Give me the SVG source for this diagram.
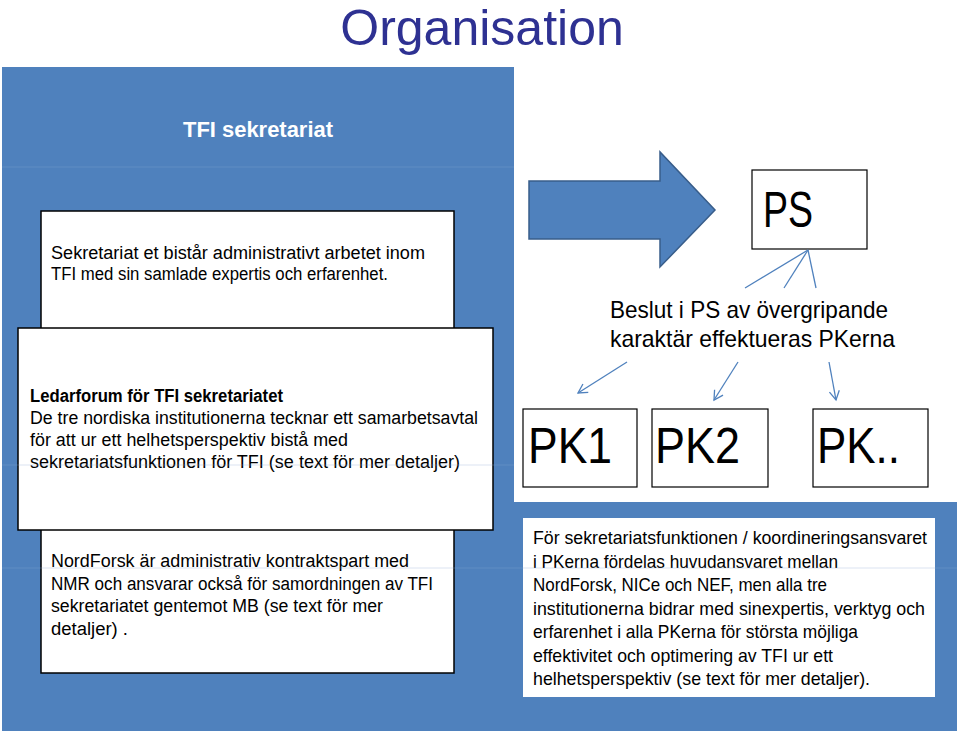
<svg xmlns="http://www.w3.org/2000/svg" width="960" height="737" viewBox="0 0 960 737">
<style>
.t{font-family:"Liberation Sans",Arial,sans-serif;fill:#000}
.b{font-size:18px}
.r{font-size:18.5px}
.big{font-size:50px}
.box{fill:#fff;stroke:#000;stroke-width:1.5}
.pk{fill:#fff;stroke:#000;stroke-width:1.2}
.con{stroke:#4F81BD;stroke-width:1.3;fill:none}
</style>
<defs>
<marker id="ah" markerWidth="12" markerHeight="12" refX="10" refY="6" orient="auto" markerUnits="userSpaceOnUse">
<path d="M1,1 L10,6 L1,11" fill="none" stroke="#4F81BD" stroke-width="1.3"/>
</marker>
</defs>
<rect width="960" height="737" fill="#fff"/>
<text class="t" x="482" y="45" text-anchor="middle" font-size="50" style="fill:#2E3192">Organisation</text>
<g id="panel">
<path d="M2,67 H514 V502 H957 V731 H2 Z" fill="#4F81BD"/>
<text class="t" x="258" y="137" text-anchor="middle" font-size="22" font-weight="bold" style="fill:#fff" textLength="150" lengthAdjust="spacingAndGlyphs">TFI sekretariat</text>
</g>
<g id="box-sekretariat">
<rect class="box" x="41" y="211" width="413" height="140"/>
<text class="t b" x="51" y="259" textLength="374" lengthAdjust="spacingAndGlyphs">Sekretariat et bistår administrativt  arbetet inom</text>
<text class="t b" x="51" y="280" textLength="337" lengthAdjust="spacingAndGlyphs">TFI med sin samlade expertis och erfarenhet.</text>
</g>
<g id="box-nordforsk">
<rect class="box" x="41" y="515" width="413" height="158"/>
<text class="t b" x="51" y="567" textLength="358" lengthAdjust="spacingAndGlyphs">NordForsk är administrativ kontraktspart  med</text>
<text class="t b" x="51" y="589.5" textLength="382" lengthAdjust="spacingAndGlyphs">NMR och ansvarar också för samordningen av TFI</text>
<text class="t b" x="51" y="612" textLength="332" lengthAdjust="spacingAndGlyphs">sekretariatet gentemot MB (se text för mer</text>
<text class="t b" x="51" y="634.5" textLength="77" lengthAdjust="spacingAndGlyphs">detaljer) .</text>
</g>
<g id="box-ledarforum">
<rect class="box" x="18" y="328" width="475" height="202"/>
<text class="t b" x="30" y="402" font-weight="bold" textLength="253" lengthAdjust="spacingAndGlyphs">Ledarforum för TFI sekretariatet</text>
<text class="t b" x="30" y="424" textLength="448" lengthAdjust="spacingAndGlyphs">De tre nordiska institutionerna tecknar ett samarbetsavtal</text>
<text class="t b" x="30" y="446" textLength="318" lengthAdjust="spacingAndGlyphs">för att ur ett helhetsperspektiv bistå med</text>
<text class="t b" x="30" y="468" textLength="430" lengthAdjust="spacingAndGlyphs">sekretariatsfunktionen  för TFI  (se text för mer detaljer)</text>
</g>
<g id="arrow">
<path d="M529,181 L660,181 L660,152 L715,210 L660,267 L660,239 L529,239 Z" fill="#4F81BD" stroke="#385D8A" stroke-width="1.5"/>
</g>
<g id="ps">
<rect class="pk" x="752" y="170" width="115" height="79"/>
<text class="t big" x="763" y="227" textLength="50" lengthAdjust="spacingAndGlyphs">PS</text>
</g>
<g id="ps-label">
<text class="t" x="610" y="318" font-size="24" textLength="278" lengthAdjust="spacingAndGlyphs">Beslut i PS av övergripande</text>
<text class="t" x="610" y="347" font-size="24" textLength="285" lengthAdjust="spacingAndGlyphs">karaktär effektueras PKerna</text>
</g>
<g id="pk1">
<rect class="pk" x="523" y="409" width="114" height="78"/>
<text class="t big" x="528" y="463" textLength="84" lengthAdjust="spacingAndGlyphs">PK1</text>
</g>
<g id="pk2">
<rect class="pk" x="652" y="409" width="116" height="78"/>
<text class="t big" x="655" y="463" textLength="85" lengthAdjust="spacingAndGlyphs">PK2</text>
</g>
<g id="pkn">
<rect class="pk" x="813" y="409" width="115" height="78"/>
<text class="t big" x="817" y="463" textLength="83" lengthAdjust="spacingAndGlyphs">PK..</text>
</g>
<g id="connectors">
<line class="con" x1="808" y1="250" x2="745" y2="288"/>
<line class="con" x1="808" y1="250" x2="784" y2="288"/>
<line class="con" x1="808" y1="250" x2="816" y2="288"/>
<line class="con" x1="627" y1="362" x2="578" y2="393" marker-end="url(#ah)"/>
<line class="con" x1="738" y1="362" x2="714" y2="400" marker-end="url(#ah)"/>
<line class="con" x1="829" y1="362" x2="836" y2="400" marker-end="url(#ah)"/>
</g>
<g id="box-pk-info">
<rect x="523" y="518" width="412" height="179" fill="#fff"/>
<text class="t r" x="533" y="544" textLength="394" lengthAdjust="spacingAndGlyphs">För sekretariatsfunktionen / koordineringsansvaret</text>
<text class="t r" x="533" y="567.5" textLength="305" lengthAdjust="spacingAndGlyphs">i PKerna fördelas huvudansvaret mellan</text>
<text class="t r" x="533" y="591" textLength="294" lengthAdjust="spacingAndGlyphs">NordForsk, NICe och NEF, men alla tre</text>
<text class="t r" x="533" y="614.5" textLength="392" lengthAdjust="spacingAndGlyphs">institutionerna bidrar med sinexpertis, verktyg och</text>
<text class="t r" x="533" y="638" textLength="325" lengthAdjust="spacingAndGlyphs">erfarenhet i alla PKerna för största möjliga</text>
<text class="t r" x="533" y="661.5" textLength="300" lengthAdjust="spacingAndGlyphs">effektivitet och optimering av TFI ur ett</text>
<text class="t r" x="533" y="685" textLength="337" lengthAdjust="spacingAndGlyphs">helhetsperspektiv (se text för mer detaljer).</text>
</g>
<g id="faint-lines" stroke="#8aa9d3" stroke-width="1" opacity="0.3">
<line x1="2" y1="167" x2="514" y2="167"/>
<line x1="2" y1="465" x2="514" y2="465"/>
<line x1="2" y1="568" x2="957" y2="568"/>
</g>
</svg>
